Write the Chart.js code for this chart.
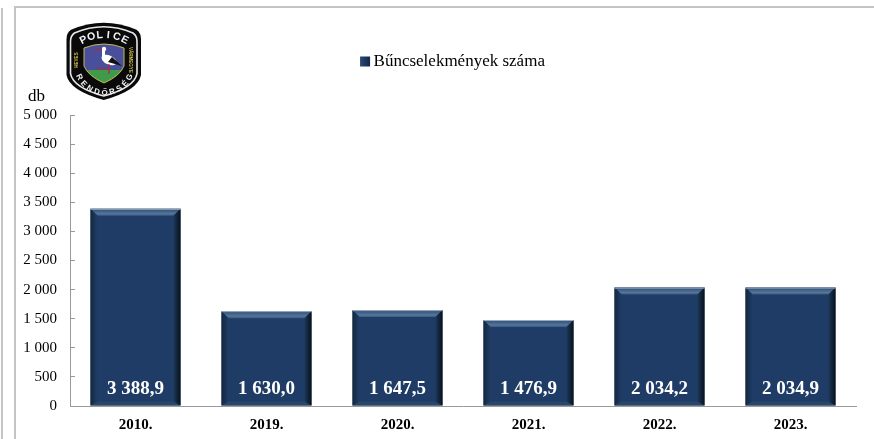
<!DOCTYPE html>
<html lang="hu">
<head>
  <meta charset="UTF-8">
  <title>Bűncselekmények száma</title>
  <script src="https://cdn.jsdelivr.net/npm/chart.js"></script>
  <style>
    html, body { margin: 0; padding: 0; background: #fff; overflow: hidden; }
    #wrap { position: relative; width: 874px; height: 439px; }
    .frame { position: absolute; background: #c4c4c4; }
    canvas { position: absolute; left: 0; top: 0; }
  </style>
</head>
<body>
<div id="wrap">
  <div class="frame" style="left:1px;top:8px;width:2px;height:431px"></div>
  <div class="frame" style="left:14px;top:6px;width:2px;height:433px"></div>
  <div class="frame" style="left:14px;top:6px;width:860px;height:2px"></div>
  <canvas id="chart" width="874" height="439"></canvas>
</div>

<script>
  const categories = ['2010.', '2019.', '2020.', '2021.', '2022.', '2023.'];
  const crimeCounts = [3388.9, 1630.0, 1647.5, 1476.9, 2034.2, 2034.9];
  const seriesName = 'Bűncselekmények száma';
  const yMin = 0;
  const yMax = 5000;
  const yStep = 500;
  const yUnit = 'db';

  const serif = '"Liberation Serif", "Times New Roman", serif';

  function spaced(intPart) {
    return String(intPart).replace(/\B(?=(\d{3})+$)/g, ' ');
  }
  function formatValue(v) {
    const parts = v.toFixed(1).split('.');
    return spaced(parts[0]) + ',' + parts[1];
  }

  // bevelled look of the bars + white value labels near the base
  const barBevel = {
    id: 'barBevel',
    afterDatasetsDraw(chart) {
      const ctx = chart.ctx;
      const meta = chart.getDatasetMeta(0);
      meta.data.forEach((bar, i) => {
        const l = bar.x - bar.width / 2, r = bar.x + bar.width / 2;
        const t = bar.y, b = bar.base;
        const side = 7, top = 7, bot = 4;
        ctx.save();

        // top edge
        let g = ctx.createLinearGradient(0, t, 0, t + top);
        g.addColorStop(0, '#2b4a72');
        g.addColorStop(0.7, '#557599');
        g.addColorStop(1, '#3a5a82');
        ctx.fillStyle = g;
        ctx.beginPath();
        ctx.moveTo(l, t); ctx.lineTo(r, t); ctx.lineTo(r - side, t + top); ctx.lineTo(l + side, t + top);
        ctx.closePath(); ctx.fill();

        // bottom edge
        ctx.fillStyle = '#2a4668';
        ctx.beginPath();
        ctx.moveTo(l, b); ctx.lineTo(r, b); ctx.lineTo(r - side, b - bot); ctx.lineTo(l + side, b - bot);
        ctx.closePath(); ctx.fill();

        // left edge
        g = ctx.createLinearGradient(l, 0, l + side, 0);
        g.addColorStop(0, '#14273f');
        g.addColorStop(1, '#1f3d66');
        ctx.fillStyle = g;
        ctx.beginPath();
        ctx.moveTo(l, t); ctx.lineTo(l + side, t + top); ctx.lineTo(l + side, b - bot); ctx.lineTo(l, b);
        ctx.closePath(); ctx.fill();

        // right edge
        g = ctx.createLinearGradient(r - side, 0, r, 0);
        g.addColorStop(0, '#1d3859');
        g.addColorStop(1, '#07111d');
        ctx.fillStyle = g;
        ctx.beginPath();
        ctx.moveTo(r, t); ctx.lineTo(r - side, t + top); ctx.lineTo(r - side, b - bot); ctx.lineTo(r, b);
        ctx.closePath(); ctx.fill();

        // thin light outline at the top
        ctx.strokeStyle = '#9fb0c4';
        ctx.lineWidth = 1;
        ctx.beginPath();
        ctx.moveTo(l, t + 0.5); ctx.lineTo(r, t + 0.5);
        ctx.stroke();

        // value
        ctx.fillStyle = '#ffffff';
        ctx.font = 'bold 19px ' + serif;
        ctx.textAlign = 'center';
        ctx.textBaseline = 'middle';
        ctx.fillText(formatValue(crimeCounts[i]), bar.x, b - 16);
        ctx.restore();
      });
    }
  };

  // unit text above the y axis
  const unitLabel = {
    id: 'unitLabel',
    afterDraw(chart) {
      const ctx = chart.ctx;
      ctx.save();
      ctx.fillStyle = '#000';
      ctx.font = '17px ' + serif;
      ctx.textAlign = 'left';
      ctx.textBaseline = 'middle';
      ctx.fillText(yUnit, 28, chart.scales.y.top - 18);
      ctx.restore();
    }
  };

  // text set along a circle, for the badge
  function arcText(ctx, text, cx, cy, rad, mid, step, inward) {
    const n = text.length;
    for (let i = 0; i < n; i++) {
      const a = mid + (i - (n - 1) / 2) * step * (inward ? 1 : -1);
      ctx.save();
      ctx.translate(cx + rad * Math.cos(a), cy + rad * Math.sin(a));
      ctx.rotate(inward ? a + Math.PI / 2 : a - Math.PI / 2);
      ctx.fillText(text[i], 0, 0);
      ctx.restore();
    }
  }

  function shield(ctx, x, y, w, h) {
    ctx.beginPath();
    ctx.moveTo(x + w * 0.06, y + h * 0.1);
    ctx.quadraticCurveTo(x + w * 0.5, y - h * 0.08, x + w * 0.94, y + h * 0.1);
    ctx.quadraticCurveTo(x + w, y + h * 0.14, x + w, y + h * 0.22);
    ctx.lineTo(x + w, y + h * 0.68);
    ctx.quadraticCurveTo(x + w * 0.96, y + h * 0.88, x + w * 0.5, y + h);
    ctx.quadraticCurveTo(x + w * 0.04, y + h * 0.88, x, y + h * 0.68);
    ctx.lineTo(x, y + h * 0.22);
    ctx.quadraticCurveTo(x, y + h * 0.14, x + w * 0.06, y + h * 0.1);
    ctx.closePath();
  }

  const badge = {
    id: 'badge',
    afterDraw(chart) {
      const ctx = chart.ctx;
      ctx.save();
      ctx.fillStyle = '#0a0a0a';
      shield(ctx, 66.5, 22, 74.5, 78); ctx.fill();
      ctx.strokeStyle = '#e8e8e8';
      ctx.lineWidth = 1.6;
      shield(ctx, 70.5, 26, 66.5, 70); ctx.stroke();

      // inner crest
      ctx.beginPath();
      ctx.moveTo(84, 48);
      ctx.quadraticCurveTo(104, 40, 124, 48);
      ctx.lineTo(124, 66);
      ctx.quadraticCurveTo(120, 76, 104, 83);
      ctx.quadraticCurveTo(88, 76, 84, 66);
      ctx.closePath();
      ctx.fillStyle = '#4a4f9c';
      ctx.fill();
      ctx.save();
      ctx.clip();
      ctx.fillStyle = '#3f9a4a';
      ctx.fillRect(80, 70, 50, 16);
      ctx.restore();
      ctx.strokeStyle = '#c9b84a';
      ctx.lineWidth = 1;
      ctx.stroke();

      // stork
      ctx.fillStyle = '#ffffff';
      ctx.beginPath();
      ctx.ellipse(109, 60, 8, 4.5, 0.45, 0, Math.PI * 2);
      ctx.fill();
      ctx.fillRect(102, 49, 3, 11);
      ctx.beginPath();
      ctx.arc(104, 49, 2.2, 0, Math.PI * 2);
      ctx.fill();
      ctx.fillStyle = '#111';
      ctx.beginPath();
      ctx.moveTo(108, 62); ctx.lineTo(122, 66); ctx.lineTo(112, 57);
      ctx.closePath(); ctx.fill();
      ctx.strokeStyle = '#b02a3a';
      ctx.lineWidth = 1.2;
      ctx.beginPath();
      ctx.moveTo(102, 48.5); ctx.lineTo(94, 51);
      ctx.moveTo(109, 64); ctx.lineTo(109, 74);
      ctx.moveTo(96, 68); ctx.lineTo(109, 69);
      ctx.stroke();

      // badge lettering
      ctx.fillStyle = '#f4f4f4';
      ctx.textAlign = 'center';
      ctx.textBaseline = 'middle';
      ctx.font = 'bold 10.5px "Liberation Sans", sans-serif';
      arcText(ctx, 'POLICE', 104, 80, 45, -Math.PI / 2, 0.19, true);
      ctx.font = 'bold 8px "Liberation Sans", sans-serif';
      arcText(ctx, 'RENDŐRSÉG', 104.5, 65, 28, Math.PI / 2, 0.28, false);

      ctx.fillStyle = '#c9b84a';
      ctx.font = 'bold 4.5px "Liberation Sans", sans-serif';
      ctx.save();
      ctx.translate(77, 60); ctx.rotate(-Math.PI / 2);
      ctx.fillText('HEVES', 0, 0);
      ctx.restore();
      ctx.save();
      ctx.translate(130, 60); ctx.rotate(Math.PI / 2);
      ctx.fillText('VÁRMEGYE', 0, 0);
      ctx.restore();
      ctx.restore();
    }
  };

  // legend sits higher and left of the centre in the original
  const legendShift = {
    id: 'legendShift',
    afterLayout(chart) {
      chart.legend.left += 17;
      chart.legend.right += 17;
      chart.legend.top -= 35;
      chart.legend.bottom -= 35;
    },
    // the key square sits closer to the text than the library puts it
    afterDraw(chart) {
      const box = chart.legend.legendHitBoxes[0];
      const ctx = chart.ctx;
      const x = box.left + 5, y = box.top + (box.height - 10) / 2;
      const g = ctx.createLinearGradient(x, 0, x + 10, 0);
      g.addColorStop(0, '#2a4a74');
      g.addColorStop(1, '#14294a');
      ctx.save();
      ctx.fillStyle = g;
      ctx.fillRect(x, y, 10, 10);
      ctx.restore();
    }
  };

  new Chart(document.getElementById('chart'), {
    type: 'bar',
    data: {
      labels: categories,
      datasets: [{
        label: seriesName,
        data: crimeCounts,
        backgroundColor: '#1e3c65',
        borderWidth: 0,
        categoryPercentage: 1,
        barPercentage: 0.687
      }]
    },
    options: {
      responsive: false,
      animation: false,
      layout: { padding: { left: 10, right: 18, top: 41, bottom: 0 } },
      plugins: {
        tooltip: { enabled: false },
        legend: {
          position: 'top',
          labels: {
            color: '#000',
            boxWidth: 10,
            boxHeight: 10,
            padding: 47,
            font: { family: serif, size: 17 },
            generateLabels() {
              return [{ text: seriesName, fillStyle: 'rgba(0,0,0,0)', strokeStyle: 'rgba(0,0,0,0)', lineWidth: 0, datasetIndex: 0 }];
            }
          }
        }
      },
      scales: {
        x: {
          grid: { display: false, drawTicks: false },
          border: { color: '#9a9a9a', width: 1 },
          ticks: {
            color: '#000',
            padding: 10,
            font: { family: serif, size: 15, weight: 'bold' }
          },
          afterFit(scale) { scale.height = 33; }
        },
        y: {
          min: yMin,
          max: yMax,
          grid: { display: true, drawOnChartArea: false, drawTicks: true, tickLength: -5, color: '#9a9a9a' },
          border: { color: '#9a9a9a', width: 1 },
          ticks: {
            stepSize: yStep,
            color: '#000',
            padding: 18,
            font: { family: serif, size: 15 },
            callback: (v) => spaced(v)
          },
          afterFit(scale) { scale.width = 60; }
        }
      }
    },
    plugins: [legendShift, barBevel, unitLabel, badge]
  });
</script>
</body>
</html>
